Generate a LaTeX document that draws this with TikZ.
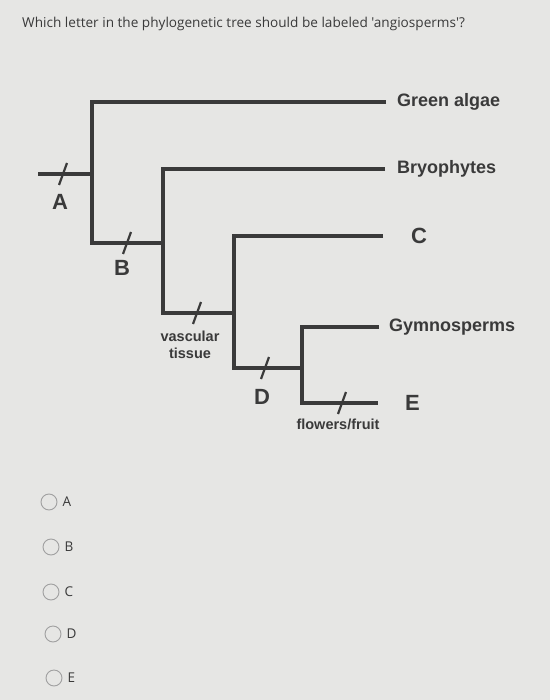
\documentclass[tikz,border=0pt]{standalone}
\usepackage{fontspec}
\setmainfont{Liberation Sans}
\newfontfamily\uifont{Open Sans}
\usepackage{xcolor}
\usetikzlibrary{positioning}
\definecolor{bgpaper}{HTML}{E6E6E4}
\definecolor{ink}{HTML}{3A3A3A}
\definecolor{radio}{HTML}{A0A0A0}

\begin{document}
\begin{tikzpicture}[x=1pt, y=-1pt,
    branch/.style={draw=ink, line width=3.2pt, line join=miter},
    tick/.style={draw=ink, line width=2.2pt},
    taxon/.style={anchor=west, inner sep=0pt, text=ink, font=\bfseries\fontsize{18}{20}\selectfont},
    letterlbl/.style={inner sep=0pt, text=ink, font=\bfseries\fontsize{22}{24}\selectfont},
    trait/.style={inner sep=0pt, align=center, text=ink, font=\bfseries\fontsize{14.5}{17}\selectfont},
    choice/.style={circle, draw=radio, line width=0.9pt, minimum size=16pt, inner sep=0pt},
    choicelbl/.style={inner sep=0pt, text=ink, font=\uifont\fontsize{13.5}{15}\selectfont}
]
\fill[bgpaper] (0,0) rectangle (550,700);
\useasboundingbox (0,0) rectangle (550,700);

\node[anchor=west, inner sep=0pt, text=ink, font=\uifont\fontsize{13.6}{16}\selectfont] (question) at (22,24)
    {Which letter in the phylogenetic tree should be labeled 'angiosperms'?};

\coordinate (root) at (38,174);
\coordinate (n1)  at (92,174);
\coordinate (n1b) at (92,243);
\coordinate (n2)  at (163,243);
\coordinate (n2b) at (163,313);
\coordinate (n3)  at (234,313);
\coordinate (n3b) at (234,368);
\coordinate (n4)  at (302,368);
\coordinate (n4b) at (302,403);

\coordinate (algaeend) at (386,102);
\coordinate (bryoend)  at (385,169);
\coordinate (cend)     at (383,236);
\coordinate (gymnoend) at (379,327);
\coordinate (eend)     at (378,403);

\node[taxon, right=11pt of algaeend] (algae) {Green algae};
\node[taxon, right=12pt of bryoend]  (bryo)  {Bryophytes};
\node[taxon, right=28pt of cend, font=\bfseries\fontsize{22}{24}\selectfont] (cleaf) {C};
\node[taxon, right=10pt of gymnoend] (gymno) {Gymnosperms};
\node[taxon, right=27pt of eend, font=\bfseries\fontsize{22}{24}\selectfont] (eleaf) {E};

\draw[branch] (root) -- (n1);
\draw[branch] (algaeend) -| (n1b) -- (n2);
\draw[branch] (bryoend) -| (n2b) -- (n3);
\draw[branch] (cend) -| (n3b) -- (n4);
\draw[branch] (gymnoend) -| (n4b) -- (eend);

\coordinate (tA) at (63,174);
\coordinate (tB) at (127,243);
\coordinate (tV) at (197,313);
\coordinate (tD) at (265,368);
\coordinate (tF) at (342,403);
\foreach \p in {tA,tB,tV,tD,tF}
    \draw[tick] ([shift={(-4,11)}]\p) -- ([shift={(4,-11)}]\p);

\node[letterlbl] (labA) at (60,202) {A};
\node[letterlbl] (labB) at (122,268) {B};
\node[trait] (vasc) at (190,345) {vascular\\tissue};
\node[letterlbl] (labD) at (262,397) {D};
\node[trait] (flow) at (338,424) {flowers/fruit};

\foreach \l/\x/\y in {A/49/502, B/51/547, C/51/592, D/53/634, E/54/678} {
    \node[choice] (opt\l) at (\x,\y) {};
    \node[choicelbl, right=5pt of opt\l] (txt\l) {\l};
}
\end{tikzpicture}
\end{document}
